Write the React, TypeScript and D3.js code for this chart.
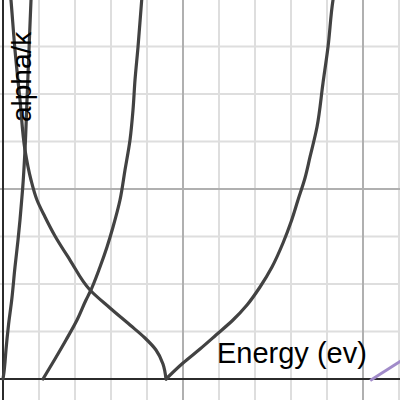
import React from "react";
import * as d3 from "d3";

const W = 400;
const H = 400;

// Curve A (rising from origin)
const curveAEnergy = [0, 0.028, 0.056, 0.083, 0.153, 0.242, 0.333, 0.417, 0.472, 0.519, 0.547, 0.611, 0.667, 0.722, 0.778, 0.786];
const curveAAlpha = [0, 0.147, 0.358, 0.611, 1.137, 1.663, 2.358, 2.926, 3.347, 3.768, 4.021, 4.821, 5.874, 6.926, 7.979, 8.105];

// Curve B (falling to the second root)
const curveBEnergy = [0.208, 0.222, 0.333, 0.472, 0.611, 0.778, 0.944, 1.167, 1.444, 1.861, 2.417, 2.972, 3.528, 3.944, 4.25, 4.444, 4.528];
const curveBAlpha = [8.105, 7.979, 6.926, 5.874, 4.821, 4.189, 3.768, 3.411, 3.011, 2.505, 1.874, 1.495, 1.137, 0.863, 0.611, 0.316, 0];

// Curve C
const curveCEnergy = [1.111, 1.444, 1.75, 2.056, 2.306, 2.417, 2.694, 2.889, 3.056, 3.25, 3.389, 3.528, 3.611, 3.667, 3.75, 3.853, 3.867];
const curveCAlpha = [0, 0.421, 0.821, 1.242, 1.663, 1.832, 2.358, 2.779, 3.2, 3.768, 4.4, 5.032, 5.663, 6.295, 6.989, 7.979, 8.105];

// Curve D
const curveDEnergy = [4.528, 5.0, 5.472, 5.917, 6.389, 6.778, 7.139, 7.472, 7.778, 8.0, 8.194, 8.389, 8.528, 8.722, 8.889, 9.028, 9.167, 9.194];
const curveDAlpha = [0, 0.337, 0.632, 0.926, 1.242, 1.558, 1.937, 2.358, 2.863, 3.305, 3.768, 4.232, 4.674, 5.305, 6.232, 6.989, 7.979, 8.105];

// Purple line
const purpleEnergy = [10.2, 11.2];
const purpleAlpha = [-0.03, 0.45];

const xMinorTicks = [1, 2, 3, 4, 6, 7, 8, 9, 11];
const xMajorTicks = [5, 10];
const yMinorTicks = [1, 2, 3, 5, 6, 7];
const yMajorTicks = [4, 8];

const xLabel = "Energy (ev)";
const yLabel = "alpha/k";

export default function App() {
  const x = d3.scaleLinear().domain([0, 10]).range([3, 363]);
  const y = d3.scaleLinear().domain([0, 8]).range([379, -1]);

  const toPts = (xs: number[], ys: number[]) => xs.map((v, i) => [x(v), y(ys[i])] as [number, number]);
  const lineY = d3.line().curve(d3.curveMonotoneY);
  const lineL = d3.line();

  const curves = [
    toPts(curveAEnergy, curveAAlpha),
    toPts(curveBEnergy, curveBAlpha),
    toPts(curveCEnergy, curveCAlpha),
    toPts(curveDEnergy, curveDAlpha),
  ];

  const font = "Arial, 'Liberation Sans', sans-serif";

  return (
    <svg
      width={W}
      height={H}
      style={{ position: "absolute", left: 0, top: 0, background: "#fff" }}
    >
      <rect x={0} y={0} width={W} height={H} fill="#fff" />
      {xMinorTicks.map((t) => (
        <line key={"xm" + t} x1={x(t)} x2={x(t)} y1={0} y2={H} stroke="#dedede" strokeWidth={2} />
      ))}
      {yMinorTicks.map((t) => (
        <line key={"ym" + t} x1={0} x2={W} y1={y(t)} y2={y(t)} stroke="#dedede" strokeWidth={2} />
      ))}
      {xMajorTicks.map((t) => (
        <line key={"xM" + t} x1={x(t)} x2={x(t)} y1={0} y2={H} stroke="#b0b0b0" strokeWidth={2} />
      ))}
      {yMajorTicks.map((t) => (
        <line key={"yM" + t} x1={0} x2={W} y1={y(t)} y2={y(t)} stroke="#b0b0b0" strokeWidth={2} />
      ))}
      <line x1={x(0)} x2={x(0)} y1={0} y2={H} stroke="#2b2b2b" strokeWidth={2} />
      <line x1={0} x2={W} y1={y(0)} y2={y(0)} stroke="#2b2b2b" strokeWidth={2} />
      <path
        d={lineL(toPts(purpleEnergy, purpleAlpha)) || ""}
        fill="none"
        stroke="#a18bc9"
        strokeWidth={3}
      />
      {curves.map((c, i) => (
        <path
          key={"c" + i}
          d={lineY(c) || ""}
          fill="none"
          stroke="#424242"
          strokeWidth={3.2}
          strokeLinecap="round"
          strokeLinejoin="round"
        />
      ))}
      <text x={x(5.944)} y={y(0.337)} fontFamily={font} fontSize={29} fill="#000">
        {xLabel}
      </text>
      <text
        transform={`translate(${x(0.778)},${y(5.41)}) rotate(-90)`}
        fontFamily={font}
        fontSize={28}
        fill="#000"
      >
        {yLabel}
      </text>
    </svg>
  );
}
